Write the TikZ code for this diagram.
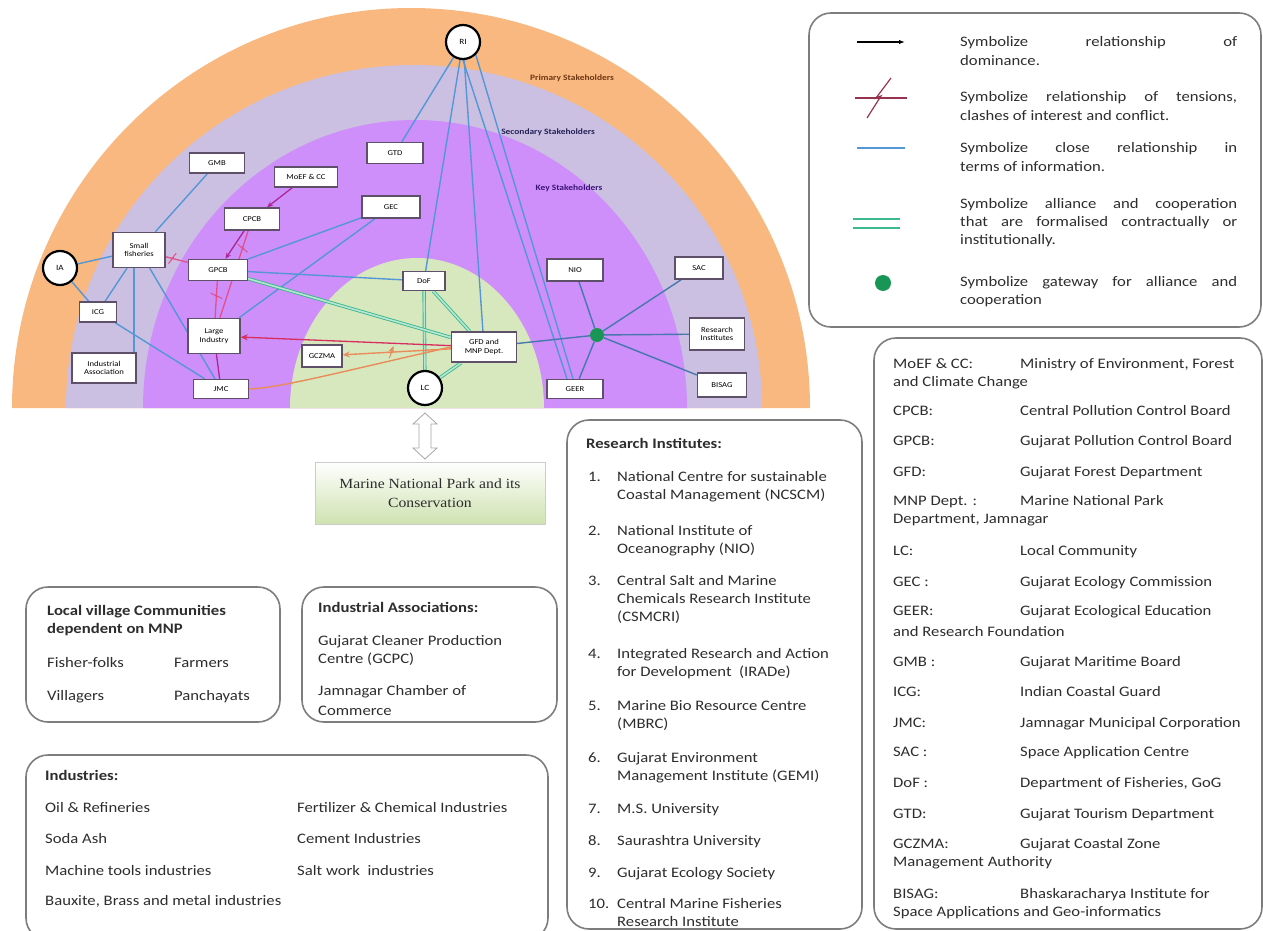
\documentclass[tikz,border=0pt]{standalone}
\usepackage{fontspec}
\setmainfont{Carlito}[FakeStretch=1.15]
\newfontfamily\serifF{Liberation Serif}[FakeStretch=1.12]
\usetikzlibrary{arrows.meta}
\definecolor{orangeL}{RGB}{248,184,128}
\definecolor{secL}{RGB}{203,192,226}
\definecolor{keyL}{RGB}{206,143,250}
\definecolor{innerL}{RGB}{216,232,190}
\definecolor{boxc}{RGB}{95,80,105}
\definecolor{infoc}{RGB}{85,150,215}
\definecolor{domc}{RGB}{170,40,150}
\definecolor{domr}{RGB}{215,45,95}
\definecolor{tenc}{RGB}{225,80,140}
\definecolor{orc}{RGB}{232,140,90}
\definecolor{alc}{RGB}{60,185,140}
\definecolor{gatec}{RGB}{25,150,85}
\definecolor{gwc}{RGB}{70,120,175}
\definecolor{framec}{RGB}{125,125,125}
\definecolor{mnpg}{RGB}{206,226,176}
\definecolor{txtc}{RGB}{45,45,45}
\definecolor{brownc}{RGB}{110,55,20}
\definecolor{navyc}{RGB}{35,35,85}
\definecolor{purpc}{RGB}{60,20,120}
\definecolor{legten}{RGB}{150,50,80}
\pgfdeclarelayer{bg}
\pgfdeclarelayer{edges}
\pgfsetlayers{bg,edges,main}
\tikzset{
  tx/.style={anchor=base west, inner sep=0pt, font=\fontsize{14.5}{18}\selectfont, text=txtc},
  txb/.style={tx, font=\bfseries\fontsize{14.5}{18}\selectfont},
  lp/.style={anchor=base west, inner sep=0pt, text width=277pt, align=justify,
    font=\fontsize{14.5}{18.3}\selectfont, text=txtc},
  sb/.style={draw=boxc, line width=1.4pt, fill=white, inner sep=1pt, align=center,
    font=\fontsize{7.5}{8.5}\selectfont, text=black},
  circ/.style={circle, draw=black, line width=2.2pt, fill=white, minimum size=34pt,
    inner sep=0pt, font=\fontsize{8}{9}\selectfont},
  dotn/.style={circle, fill=gatec, minimum size=14pt, inner sep=0pt},
  info/.style={draw=infoc, line width=1.4pt},
  gwl/.style={draw=gwc, line width=1.4pt},
  alli/.style={draw=alc, double=alc!35, double distance=1.6pt, line width=0.9pt},
  dom/.style={draw=domc, line width=1.3pt, -{Stealth[length=6pt,width=5pt]}},
  domp/.style={draw=domc, line width=1.3pt},
  domred/.style={draw=domr, line width=1.3pt, -{Stealth[length=7pt,width=6pt]}},
  ten/.style={draw=tenc, line width=1.3pt},
  ora/.style={draw=orc, line width=1.4pt},
  frame/.style={draw=framec, line width=1.6pt, rounded corners=22pt},
  stl/.style={inner sep=0pt, font=\bfseries\fontsize{8.2}{9}\selectfont},
  tz/.pic={\draw[pic actions, line width=1pt] (-2.5pt,-6pt) -- (1pt,1.5pt) -- (-1pt,-1.5pt) -- (2.5pt,6pt);}
}
\begin{document}
\begin{tikzpicture}[x=1pt,y=-1pt]
\useasboundingbox (0,0) rectangle (1263,931);

% ---------------- semicircle bands ----------------
\begin{pgfonlayer}{bg}
\fill[orangeL] (12,408) arc[start angle=180,end angle=0,x radius=399pt,y radius=400pt] -- cycle;
\fill[secL] (66,408) arc[start angle=180,end angle=0,x radius=348pt,y radius=343pt] -- cycle;
\fill[keyL] (143,408) arc[start angle=180,end angle=0,x radius=272pt,y radius=288pt] -- cycle;
\fill[innerL] (290,408) arc[start angle=180,end angle=0,x radius=127pt,y radius=150pt] -- cycle;
\end{pgfonlayer}

\node[stl, text=brownc] (pst) at (572,78) {Primary Stakeholders};
\node[stl, text=navyc] (sst) at (548,132) {Secondary Stakeholders};
\node[stl, text=purpc] (kst) at (569,188) {Key Stakeholders};

% ---------------- actors ----------------
\node[circ] (ri) at (463,42) {RI};
\node[circ] (ia) at (60,268) {IA};
\node[circ] (lc) at (425,388) {LC};
\node[sb, minimum width=55pt, minimum height=20pt] (gmb) at (217,163) {GMB};
\node[sb, minimum width=63pt, minimum height=20pt] (moef) at (306,177) {MoEF \& CC};
\node[sb, minimum width=56pt, minimum height=21pt] (gtd) at (395,153) {GTD};
\node[sb, minimum width=55pt, minimum height=22pt] (cpcb) at (252,219) {CPCB};
\node[sb, minimum width=58pt, minimum height=22pt] (gec) at (391,207) {GEC};
\node[sb, minimum width=52pt, minimum height=35pt] (sf) at (139,250) {Small\\fisheries};
\node[sb, minimum width=59pt, minimum height=21pt] (gpcb) at (218,270) {GPCB};
\node[sb, minimum width=37pt, minimum height=20pt] (icg) at (98,312) {ICG};
\node[sb, minimum width=52pt, minimum height=35pt] (li) at (214,336) {Large\\Industry};
\node[sb, minimum width=64pt, minimum height=30pt] (ind) at (104,368) {Industrial\\Association};
\node[sb, minimum width=55pt, minimum height=19pt] (jmc) at (221,389) {JMC};
\node[sb, minimum width=40pt, minimum height=22pt] (gcz) at (322,356) {GCZMA};
\node[sb, minimum width=42pt, minimum height=19pt] (dof) at (424,281) {DoF};
\node[sb, minimum width=65pt, minimum height=30pt] (gfd) at (484,347) {GFD and\\MNP Dept.};
\node[sb, minimum width=56pt, minimum height=22pt] (nio) at (575,270) {NIO};
\node[sb, minimum width=48pt, minimum height=22pt] (sac) at (699,268) {SAC};
\node[sb, minimum width=55pt, minimum height=32pt] (res) at (717,334) {Research\\Institutes};
\node[sb, minimum width=49pt, minimum height=24pt] (bisag) at (722,385) {BISAG};
\node[sb, minimum width=56pt, minimum height=19pt] (geer) at (575,389) {GEER};
\node[dotn] (gw) at (597,335) {};

% ---------------- relations ----------------
\begin{pgfonlayer}{edges}
\draw[info] (ri) -- (gtd);
\draw[info] (ri) -- (dof);
\draw[info] (ri) -- (gfd);
\draw[info] (ri.south) -- ([xshift=-8pt]geer.north);
\draw[info] (ri.south east) -- ([xshift=-2pt]geer.north);
\draw[info] (gmb) -- (sf);
\draw[info] (ia) -- (sf);
\draw[info] (ia) -- (icg);
\draw[info] (sf) -- (icg);
\draw[info] ([xshift=-5pt]sf.south) -- ([xshift=-5pt]sf.south |- ind.north);
\draw[info] (sf) -- (jmc);
\draw[info] (icg) -- (jmc);
\draw[info] (gec) -- (li);
\draw[info] (gec) -- (gpcb);
\draw[info] (gpcb) -- (dof);

\draw[gwl] (gfd) -- (gw);
\draw[gwl] (gw) -- (res);
\draw[gwl] (gw) -- (nio);
\draw[gwl] (gw) -- (geer);
\draw[gwl] (gw) -- (sac);
\draw[gwl] (gw) -- (bisag);

\draw[alli] (dof) -- (gfd);
\draw[alli] (dof) -- (lc);
\draw[alli] (gfd) -- (lc);
\draw[alli] (gpcb) -- (gfd);

\draw[dom] (moef) -- (cpcb);
\draw[dom] (cpcb) -- (gpcb);
\draw[domp] (li) -- (jmc);
\draw[domred] (gfd) -- (li);

\draw[ten] (cpcb) -- pic[pos=0.2, sloped, draw=tenc]{tz} (li);
\draw[ten] (gpcb) -- pic[pos=0.4, sloped, draw=tenc]{tz} (li);
\draw[ten] (sf) -- pic[pos=0.3, sloped, draw=tenc]{tz} (gpcb);

\draw[ora, -{Stealth[length=7pt,width=6pt]}] (gfd) -- pic[pos=0.55, sloped, draw=orc]{tz} (gcz);
\draw[ora] (jmc.east) .. controls (280,388) and (340,372) .. (gfd.west);
\end{pgfonlayer}

% ---------------- MNP box ----------------
\draw[fill=white, draw=gray!70, line width=0.8pt] (425,413) -- (437,424) -- (431,424) -- (431,448) -- (437,448) -- (425,459) -- (413,448) -- (419,448) -- (419,424) -- (413,424) -- cycle;
\shade[top color=white, bottom color=mnpg] (315,462) rectangle (545,524);
\draw[gray!40, line width=0.6pt] (315,462) rectangle (545,524);
\node[inner sep=0pt, align=center, text=txtc, font=\serifF\fontsize{14}{19}\selectfont] (mnp) at (430,493) {Marine National Park and its\\Conservation};

% ---------------- legend ----------------
\draw[frame] (809,13) rectangle (1261,327);
\coordinate (l1a) at (857,42); \coordinate (l1b) at (905,42);
\draw[-{Latex[length=6pt]}, line width=1.3pt, black] (l1a) -- (l1b);
\coordinate (l2a) at (855,98); \coordinate (l2b) at (907,98);
\draw[legten, line width=1.2pt] (l2a) -- (l2b);
\draw[legten, line width=1.2pt] (867,118) -- (881,96) -- (876,98) -- (891,78);
\coordinate (l3a) at (857,148); \coordinate (l3b) at (905,148);
\draw[infoc, line width=2pt] (l3a) -- (l3b);
\coordinate (l4a) at (853,219); \coordinate (l4b) at (900,219);
\coordinate (l4c) at (853,228); \coordinate (l4d) at (900,228);
\draw[alc, line width=1.6pt] (l4a) -- (l4b);
\draw[alc, line width=1.6pt] (l4c) -- (l4d);
\node[dotn, minimum size=16pt] (ldot) at (883,283) {};

\node[lp] (lt1) at (960,47) {Symbolize relationship of\linebreak dominance.};
\node[lp] (lt2) at (960,102) {Symbolize relationship of tensions,\linebreak clashes of interest and conflict.};
\node[lp] (lt3) at (960,153) {Symbolize close relationship in\linebreak terms of information.};
\node[lp] (lt4) at (960,208) {Symbolize alliance and cooperation\linebreak that are formalised contractually or\linebreak institutionally.};
\node[lp] (lt5) at (960,286) {Symbolize gateway for alliance and\linebreak cooperation};

% ---------------- abbreviations ----------------
\draw[frame] (874,338) rectangle (1262,929);
\foreach \yy/\aa/\dd [count=\i] in {
  368/{MoEF \& CC:}/{Ministry of Environment, Forest},
  415/{CPCB:}/{Central Pollution Control Board},
  445/{GPCB:}/{Gujarat Pollution Control Board},
  476/{GFD:}/{Gujarat Forest Department},
  505/{MNP Dept. :}/{Marine National Park},
  555/{LC:}/{Local Community},
  586/{GEC :}/{Gujarat Ecology Commission},
  615/{GEER:}/{Gujarat Ecological Education},
  666/{GMB :}/{Gujarat Maritime Board},
  696/{ICG:}/{Indian Coastal Guard},
  727/{JMC:}/{Jamnagar Municipal Corporation},
  756/{SAC :}/{Space Application Centre},
  787/{DoF :}/{Department of Fisheries, GoG},
  818/{GTD:}/{Gujarat Tourism Department},
  848/{GCZMA:}/{Gujarat Coastal Zone},
  898/{BISAG:}/{Bhaskaracharya Institute for}}{
  \node[tx] (abA\i) at (893,\yy) {\aa};
  \node[tx] (abD\i) at (1020,\yy) {\dd};
}
\node[tx] (abC1) at (893,386) {and Climate Change};
\node[tx] (abC2) at (893,523) {Department, Jamnagar};
\node[tx] (abC3) at (893,636) {and Research Foundation};
\node[tx] (abC4) at (893,866) {Management Authority};
\node[tx] (abC5) at (893,916) {Space Applications and Geo-informatics};

% ---------------- research institutes ----------------
\draw[frame] (567,420) rectangle (862,929);
\node[txb] (rtitle) at (586,448) {Research Institutes:};
\foreach \yy/\nn/\tt [count=\i] in {
  481/1./{National Centre for sustainable},
  535/2./{National Institute of},
  585/3./{Central Salt and Marine},
  658/4./{Integrated Research and Action},
  710/5./{Marine Bio Resource Centre},
  762/6./{Gujarat Environment},
  813/7./{M.S. University},
  845/8./{Saurashtra University},
  877/9./{Gujarat Ecology Society},
  908/10./{Central Marine Fisheries}}{
  \node[tx] (rn\i) at (588,\yy) {\nn};
  \node[tx] (rt\i) at (617,\yy) {\tt};
}
\node[tx] (rc1) at (617,499) {Coastal Management (NCSCM)};
\node[tx] (rc2) at (617,553) {Oceanography (NIO)};
\node[tx] (rc3) at (617,603) {Chemicals Research Institute};
\node[tx] (rc4) at (617,621) {(CSMCRI)};
\node[tx] (rc5) at (617,676) {for Development\ \ (IRADe)};
\node[tx] (rc6) at (617,728) {(MBRC)};
\node[tx] (rc7) at (617,780) {Management Institute (GEMI)};
\node[tx] (rc8) at (617,926) {Research Institute};

% ---------------- local village ----------------
\draw[frame] (26,587) rectangle (280,722);
\node[txb] (lv1) at (47,615) {Local village Communities};
\node[txb] (lv2) at (47,633) {dependent on MNP};
\node[tx] (lv3) at (47,667) {Fisher-folks};
\node[tx] (lv4) at (174,667) {Farmers};
\node[tx] (lv5) at (47,700) {Villagers};
\node[tx] (lv6) at (174,700) {Panchayats};

% ---------------- industrial associations ----------------
\draw[frame] (302,587) rectangle (557,722);
\node[txb] (ia1) at (318,612) {Industrial Associations:};
\node[tx] (ia2) at (318,645) {Gujarat Cleaner Production};
\node[tx] (ia3) at (318,663) {Centre (GCPC)};
\node[tx] (ia4) at (318,695) {Jamnagar Chamber of};
\node[tx] (ia5) at (318,715) {Commerce};

% ---------------- industries ----------------
\draw[frame] (26,755) rectangle (548,940);
\node[txb] (in1) at (45,780) {Industries:};
\node[tx] (in2) at (45,812) {Oil \& Refineries};
\node[tx] (in3) at (297,812) {Fertilizer \& Chemical Industries};
\node[tx] (in4) at (45,843) {Soda Ash};
\node[tx] (in5) at (297,843) {Cement Industries};
\node[tx] (in6) at (45,875) {Machine tools industries};
\node[tx] (in7) at (297,875) {Salt work\ \ industries};
\node[tx] (in8) at (45,905) {Bauxite, Brass and metal industries};
\end{tikzpicture}
\end{document}
